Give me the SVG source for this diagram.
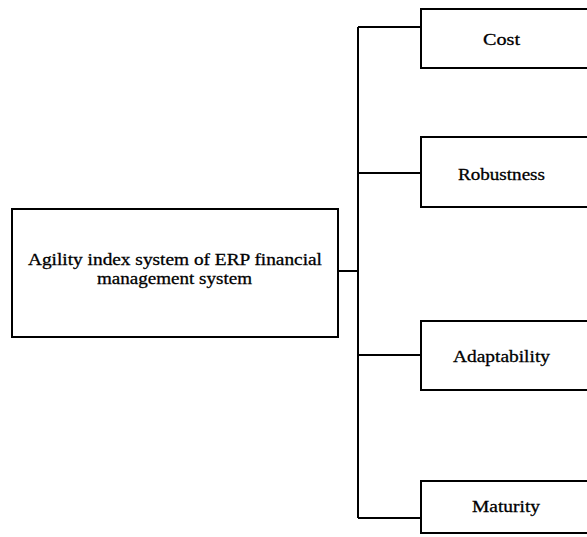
<svg xmlns="http://www.w3.org/2000/svg" width="587" height="537" viewBox="0 0 587 537">
<style>
.box{fill:#fff;stroke:#000;stroke-width:2}
.ln{fill:none;stroke:#000;stroke-width:2}
text{font-family:"Liberation Serif","Times New Roman",serif;font-size:17px;fill:#000;stroke:#000;stroke-width:0.3}
</style>
<rect width="587" height="537" fill="#fff"/>
<g id="connectors">
<path class="ln" d="M338 271H358M358 27V518M358 27H421M358 173H421M358 355H421M358 518H421"/>
</g>
<g id="root">
<rect class="box" x="12" y="209" width="326" height="128"/>
<text x="28" y="265" textLength="294" lengthAdjust="spacingAndGlyphs">Agility index system of ERP financial</text>
<text x="97" y="284" textLength="155" lengthAdjust="spacingAndGlyphs">management system</text>
</g>
<g id="cost">
<rect class="box" x="421" y="9" width="180" height="59"/>
<text x="483" y="45" textLength="37" lengthAdjust="spacingAndGlyphs">Cost</text>
</g>
<g id="robustness">
<rect class="box" x="421" y="137" width="180" height="70"/>
<text x="458" y="180" textLength="87" lengthAdjust="spacingAndGlyphs">Robustness</text>
</g>
<g id="adaptability">
<rect class="box" x="421" y="321" width="180" height="69"/>
<text x="453" y="362" textLength="97" lengthAdjust="spacingAndGlyphs">Adaptability</text>
</g>
<g id="maturity">
<rect class="box" x="421" y="481" width="180" height="52"/>
<text x="472" y="512" textLength="68" lengthAdjust="spacingAndGlyphs">Maturity</text>
</g>
</svg>
